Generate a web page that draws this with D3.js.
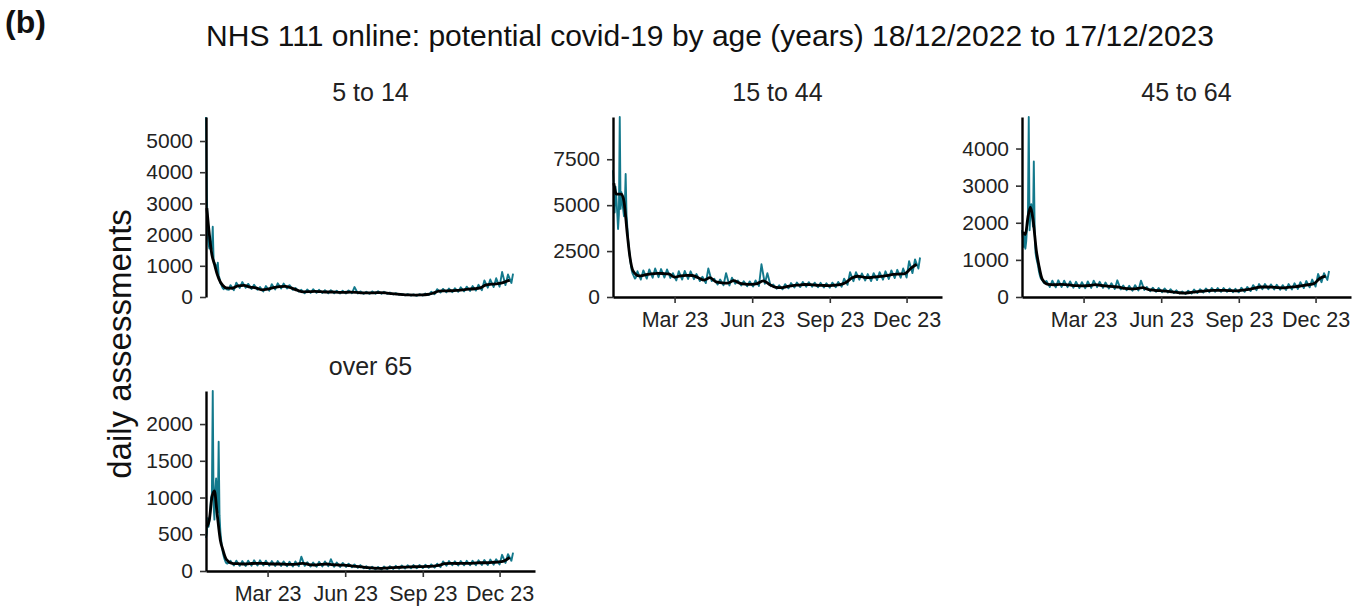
<!DOCTYPE html>
<html><head><meta charset="utf-8">
<script src="https://cdn.jsdelivr.net/npm/d3@7"></script>
<style>
body{margin:0;background:#fff}
svg{display:block}
text{font-family:"Liberation Sans",Arial,Helvetica,sans-serif}
</style>
</head><body>
<svg id="chart" width="1362" height="607"></svg>
<script>
// ---------------- DATA ----------------
const startDate = new Date(2022, 11, 18);
const axisEndDate = new Date(2024, 0, 12);
const panelNames = ["5 to 14", "15 to 44", "45 to 64", "over 65"];
const xTickDates = ["2023-03-01", "2023-06-01", "2023-09-01", "2023-12-01"];
const xTickLabels = ["Mar 23", "Jun 23", "Sep 23", "Dec 23"];
const yTicks_5to14 = [0, 1000, 2000, 3000, 4000, 5000];
const yTicks_15to44 = [0, 2500, 5000, 7500];
const yTicks_45to64 = [0, 1000, 2000, 3000, 4000];
const yTicks_over65 = [0, 500, 1000, 1500, 2000];

// daily values, days 0..27 (from 18/12/2022)
const daily_5to14  = [5770,3300,2000,1700,1550,1800,1500,1600,2250,1200,1100,1050,1000,800,1100,700,600,450,400,330,280,250,330,300,260,240,250,230];
const daily_15to44 = [6900,6100,4600,6000,5400,4600,3700,4500,9800,4800,5700,5200,4800,4400,5000,6700,4500,3800,3100,2600,2200,1800,1500,1300,1200,1100,1000,1050];
const daily_45to64 = [1800,1600,1350,1700,1300,1500,1900,2100,4850,1800,2300,2500,2200,1900,3650,1800,1200,1050,950,850,700,600,520,480,450,420,380,400];
const daily_over65 = [450,520,720,600,680,800,1000,1050,2450,900,700,1100,1260,1000,800,1760,760,540,420,320,250,200,160,130,110,100,120,110];

// weekly highs (day 7k+1) and lows (day 7k+5), k = 4..51
const weekHigh_5to14 = [380,460,480,420,390,320,350,410,440,430,380,290,230,240,250,230,220,220,200,200,210,320,180,170,180,185,170,145,125,100,90,85,90,110,170,250,260,270,280,310,330,350,390,530,560,600,800,720];
const weekLow_5to14  = [220,290,300,260,230,180,200,240,270,270,230,170,120,130,135,130,120,120,115,115,120,115,100,100,105,105,100,80,70,55,45,40,45,60,90,145,150,155,165,180,195,205,220,300,320,330,380,450];
const weekHigh_15to44 = [1400,1450,1500,1550,1520,1500,1300,1400,1420,1400,1250,1100,1550,1000,950,1300,1050,900,860,850,900,1780,1300,680,640,700,760,790,820,810,780,770,750,780,820,1000,1350,1350,1280,1250,1300,1350,1400,1450,1480,1550,1950,2050];
const weekLow_15to44  = [950,1000,1050,1080,1060,1040,900,950,980,970,870,760,870,680,640,630,720,630,580,570,600,720,580,450,420,470,520,540,560,560,530,520,510,530,560,660,860,940,900,870,920,940,980,1030,1050,1060,1300,1550];
const weekHigh_45to64 = [430,440,450,440,420,410,400,420,440,410,390,370,450,310,300,320,440,270,250,240,230,210,180,150,170,200,210,230,240,240,240,230,220,250,270,320,350,350,340,330,320,350,370,400,430,470,620,640];
const weekLow_45to64  = [270,260,270,265,250,240,235,245,265,245,230,215,205,180,170,175,190,155,140,130,120,105,90,80,90,105,120,130,140,140,140,130,125,140,160,185,210,210,205,195,190,205,215,240,260,280,400,460];
const weekHigh_over65 = [140,140,135,140,145,145,140,135,135,130,125,130,195,120,115,125,130,160,115,110,100,90,80,65,58,55,60,65,70,75,78,80,82,85,90,100,130,135,132,135,138,140,145,150,155,160,220,230];
const weekLow_over65  = [75,70,68,72,75,75,72,68,68,65,62,65,70,60,58,62,65,58,56,55,50,42,36,28,22,20,24,28,32,34,36,38,40,42,45,52,72,78,76,77,78,80,82,82,86,90,110,140];
// last day (17/12/2023, day 364)
const lastDay = [750, 2150, 700, 250];

// 7-day average: days
const avgDays = [1,4,7,10,13,17,20,24,31,38,45,52,59,66,73,80,87,94,101,108,115,122,129,136,143,150,157,164,171,178,185,192,199,206,213,220,227,234,241,248,255,262,269,276,283,290,297,304,311,318,325,332,339,346,353,360];
const avg_5to14  = [2850,2000,1350,1050,750,480,370,290,280,360,370,320,290,230,250,300,330,340,290,220,165,170,180,170,160,160,150,150,155,150,135,130,135,140,130,110,95,75,65,60,65,80,120,185,195,200,210,230,250,265,290,390,410,430,470,540];
const avg_15to44 = [6200,5600,5600,5600,5200,3400,2200,1400,1150,1200,1260,1290,1280,1260,1080,1150,1180,1170,1050,920,1050,820,770,760,890,760,700,690,730,880,700,540,510,560,620,650,680,670,640,630,620,640,670,790,1030,1130,1080,1050,1100,1120,1170,1230,1250,1270,1560,1780];
const avg_45to64 = [1750,1680,2150,2420,2100,1250,850,480,340,330,340,335,315,305,300,310,335,310,295,280,265,230,220,225,250,200,180,170,160,140,120,105,120,140,155,170,180,180,180,170,165,185,205,240,270,270,265,250,245,265,280,305,330,360,500,560];
const avg_over65 = [600,700,1000,1090,800,420,290,160,105,100,95,100,105,105,100,95,95,92,90,95,105,88,82,90,95,85,82,80,72,62,55,45,38,36,40,45,50,52,55,58,60,62,66,75,100,105,102,104,105,108,112,112,118,122,135,185];

// ---------------- LAYOUT ----------------
const W = 329, H = 180;
const panels = [
  {name: panelNames[0], px: 206, py: 117, xAxis: false, daily: daily_5to14, hi: weekHigh_5to14, lo: weekLow_5to14, last: lastDay[0], avg: avg_5to14, ticks: yTicks_5to14},
  {name: panelNames[1], px: 613, py: 117, xAxis: true, daily: daily_15to44, hi: weekHigh_15to44, lo: weekLow_15to44, last: lastDay[1], avg: avg_15to44, ticks: yTicks_15to44},
  {name: panelNames[2], px: 1022, py: 117, xAxis: true, daily: daily_45to64, hi: weekHigh_45to64, lo: weekLow_45to64, last: lastDay[2], avg: avg_45to64, ticks: yTicks_45to64},
  {name: panelNames[3], px: 206, py: 391, xAxis: true, daily: daily_over65, hi: weekHigh_over65, lo: weekLow_over65, last: lastDay[3], avg: avg_over65, ticks: yTicks_over65}
];

const TEAL = "#13798c";
const svg = d3.select("#chart");
const dayDate = d => d3.timeDay.offset(startDate, d);
const parse = d3.timeParse("%Y-%m-%d");

svg.append("text").attr("x", 5).attr("y", 33).attr("font-size", 32).attr("font-weight", "bold").attr("fill", "#111").text("(b)");
svg.append("text").attr("x", 710).attr("y", 46).attr("text-anchor", "middle").attr("font-size", 30).attr("fill", "#111")
  .text("NHS 111 online: potential covid-19 by age (years) 18/12/2022 to 17/12/2023");
svg.append("text").attr("transform", "translate(131,344) rotate(-90)").attr("text-anchor", "middle").attr("font-size", 33).attr("fill", "#111")
  .text("daily assessments");

panels.forEach(p => {
  const pts = [];
  p.daily.forEach((v, i) => pts.push({d: i, v}));
  p.hi.forEach((v, j) => {
    const k = j + 4;
    pts.push({d: 7 * k + 1, v});
    pts.push({d: 7 * k + 5, v: p.lo[j]});
  });
  pts.push({d: 364, v: p.last});
  const avgPts = p.avg.map((v, i) => ({d: avgDays[i], v}));

  const x = d3.scaleTime().domain([startDate, axisEndDate]).range([0, W]);
  const y = d3.scaleLinear().domain([0, d3.max(pts, d => d.v)]).range([H, 0]);
  const g = svg.append("g").attr("transform", `translate(${p.px},${p.py})`);

  const line = d3.line().x(d => x(dayDate(d.d))).y(d => y(d.v));
  g.append("path").datum(pts).attr("d", line).attr("fill", "none").attr("stroke", TEAL).attr("stroke-width", 1.9).attr("stroke-linejoin", "round");
  g.append("path").datum(avgPts).attr("d", line.curve(d3.curveMonotoneX)).attr("fill", "none").attr("stroke", "#000").attr("stroke-width", 2.8).attr("stroke-linejoin", "round");

  const ya = g.append("g").call(d3.axisLeft(y).tickValues(p.ticks).tickSize(6).tickPadding(7).tickSizeOuter(0).tickFormat(d3.format("d")));
  ya.select(".domain").attr("stroke", "#000").attr("stroke-width", 2.4);
  ya.selectAll(".tick line").attr("stroke", "#333").attr("stroke-width", 1.6);
  ya.selectAll(".tick text").attr("font-size", 21).attr("fill", "#222").attr("font-family", null);

  if (p.xAxis) {
    const xa = g.append("g").attr("transform", `translate(0,${H})`)
      .call(d3.axisBottom(x).tickValues(xTickDates.map(parse)).tickSize(6).tickPadding(9).tickSizeOuter(0)
        .tickFormat((d, i) => xTickLabels[i]));
    xa.select(".domain").attr("stroke", "#000").attr("stroke-width", 2.4);
    xa.selectAll(".tick line").attr("stroke", "#333").attr("stroke-width", 1.6);
    xa.selectAll(".tick text").attr("font-size", 21.5).attr("fill", "#222").attr("font-family", null);
  }

  svg.append("text").attr("x", p.px + W / 2).attr("y", p.py - 16).attr("text-anchor", "middle")
    .attr("font-size", 25).attr("fill", "#222").text(p.name);
});
</script>
</body></html>
